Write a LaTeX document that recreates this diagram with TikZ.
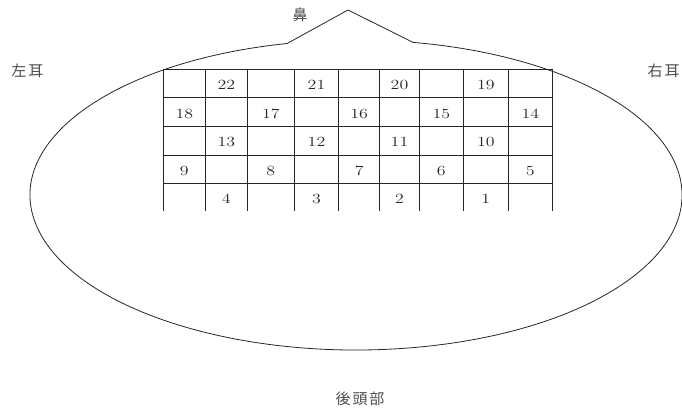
\documentclass[tikz,border=0pt]{standalone}
\usepackage{fontspec}
\newfontfamily\cjk{Noto Sans CJK JP}
\usetikzlibrary{calc}
\begin{document}
\begin{tikzpicture}[x=1pt,y=1pt,
  outline/.style={line width=0.8pt,draw=black!85},
  gridline/.style={line width=0.7pt,draw=black!85},
  num/.style={font=\fontsize{14}{14}\selectfont,inner sep=0pt,text=black!85},
  lbl/.style={font=\cjk\fontsize{15}{15}\selectfont,inner sep=0pt,text=black!70}]
\useasboundingbox (0,0) rectangle (682,410);
% head outline
\coordinate (C) at (356,215);
\coordinate (NL) at ($(C)+(102.2:326 and 155)$);
\coordinate (NR) at ($(C)+(79.9:326 and 155)$);
\coordinate (NP) at (348,400);
\draw[outline] (NL) arc[start angle=102.2,end angle=439.9,x radius=326,y radius=155] -- (NP) -- cycle;
% grid
\def\xs{163.3,205.3,247.3,294.3,338.7,379.7,419.3,463.3,508.3,552.3}
\foreach \x in \xs {\draw[gridline] (\x,341) -- (\x,199.3);}
\foreach \y in {341,312.3,283.7,255,226.7} {\draw[gridline] (163.3,\y) -- (552.3,\y);}
% numbers
\def\cx{{0,184.3,226.3,270.8,316.5,359.2,399.5,441.3,485.8,530.3}}
\def\ry{{0,325.5,296.5,268,239.5,211.5}}
\foreach \n/\c/\r in {22/2/1,21/4/1,20/6/1,19/8/1,
  18/1/2,17/3/2,16/5/2,15/7/2,14/9/2,
  13/2/3,12/4/3,11/6/3,10/8/3,
  9/1/4,8/3/4,7/5/4,6/7/4,5/9/4,
  4/2/5,3/4/5,2/6/5,1/8/5}
  {\pgfmathsetmacro\px{\cx[\c]}\pgfmathsetmacro\py{\ry[\r]}
   \node[num] (n\n) at (\px,\py) {\scalebox{1.28}[1]{\n}};}
% labels
\node[lbl] (nose) at (300,395) {鼻};
\node[lbl] (lear) at (27.5,339) {左\hspace{2pt}耳};
\node[lbl] (rear) at (663.5,339) {右\hspace{2pt}耳};
\node[lbl] (back) at (360,11) {後\hspace{2pt}頭\hspace{2pt}部};
\end{tikzpicture}
\end{document}
